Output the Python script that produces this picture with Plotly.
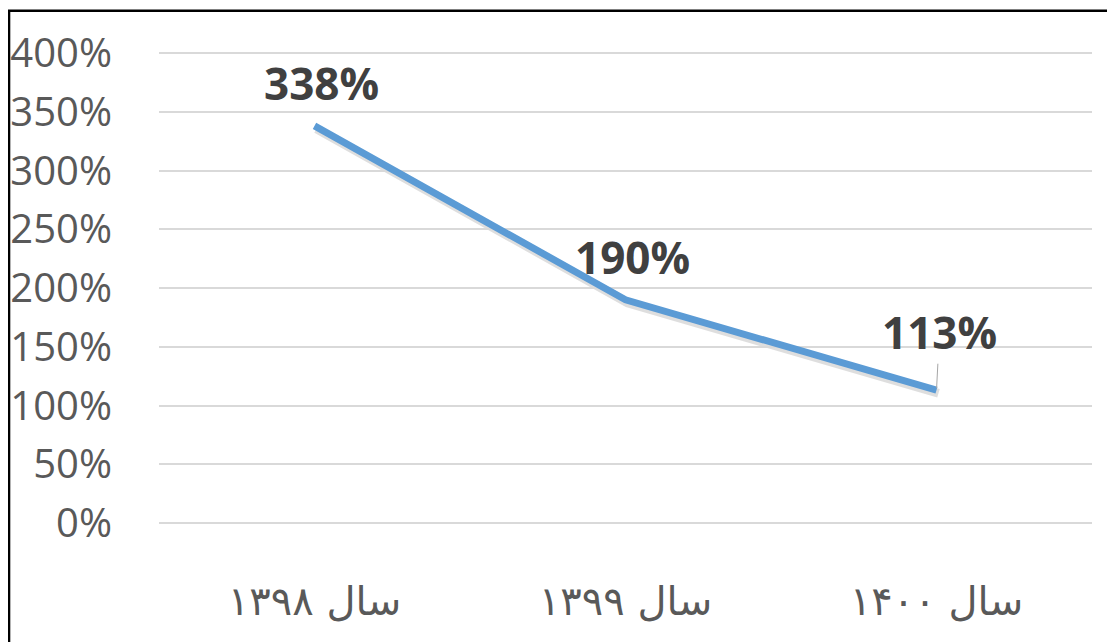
import plotly.graph_objects as go

categories = ["سال ۱۳۹۸", "سال ۱۳۹۹", "سال ۱۴۰۰"]
values = [3.38, 1.90, 1.13]
labels = ["338%", "190%", "113%"]
y_ticks = [0, 0.5, 1, 1.5, 2, 2.5, 3, 3.5, 4]
y_tick_text = ["0%", "50%", "100%", "150%", "200%", "250%", "300%", "350%", "400%"]

OFF = 8  # page body margin in the browser
W, H = 1115 - OFF, 642 - OFF
L, R, T, B = 159 - OFF, 23, 53 - OFF, 119
PAD = 6
ml, mr, mt, mb = L - PAD, R - PAD, T - PAD, B - PAD
aw, ah = W - ml - mr, H - mt - mb

Y_LO, Y_HI = -0.012, 4.012
PXU = (H - B - T) / 4.0  # pixels per unit of the value axis
T2 = T - (Y_HI - 4) * PXU
B2 = B - (0 - Y_LO) * PXU


def xd(px0, px1):
    return [(px0 - ml) / aw, (px1 - ml) / aw]


def yd(py_bottom, py_top):
    return [(H - mb - py_bottom) / ah, (H - mb - py_top) / ah]


fig = go.Figure()

# soft shadow on an offset, invisible copy of the axes (drawn first, underneath)
fig.add_trace(go.Scatter(
    x=categories, y=values, mode="lines", xaxis="x", yaxis="y",
    line=dict(color="rgba(0,0,0,0.13)", width=9), hoverinfo="skip", showlegend=False))
# main line on the visible axes
fig.add_trace(go.Scatter(
    x=categories, y=values, mode="lines", xaxis="x2", yaxis="y2",
    line=dict(color="#5B9BD5", width=7), showlegend=False))

lab_font = dict(family="Open Sans", size=44, color="#404040")
for i, (c, v, t) in enumerate(zip(categories, values, labels)):
    if i == 2:
        fig.add_annotation(x=c, y=v, xref="x2", yref="y2", text="<b>%s</b>" % t,
                           showarrow=True, arrowhead=0, arrowwidth=1,
                           arrowcolor="#A6A6A6", ax=3, ay=-58, standoff=2,
                           font=lab_font)
    else:
        fig.add_annotation(x=c, y=v, xref="x2", yref="y2", text="<b>%s</b>" % t,
                           showarrow=False, xshift=7, yshift=43, font=lab_font)

fig.update_layout(
    width=W, height=H,
    margin=dict(l=ml, r=mr, t=mt, b=mb, autoexpand=False),
    paper_bgcolor="white", plot_bgcolor="rgba(0,0,0,0)",
    showlegend=False,
    xaxis=dict(type="category", range=[-0.5, 2.5], domain=xd(L + 2, W - R + 2),
               anchor="y", visible=False, showgrid=False, automargin=False),
    yaxis=dict(range=[Y_LO, Y_HI], domain=yd(H - B2 + 3, T2 + 3), anchor="x",
               visible=False, showgrid=False, automargin=False),
    xaxis2=dict(type="category", range=[-0.5, 2.5], showgrid=False, showline=False,
                zeroline=False, ticks="", ticklabelstandoff=50, automargin=False,
                tickfont=dict(family="DejaVu Sans", size=40, color="#595959"),
                domain=xd(L, W - R), anchor="y2"),
    yaxis2=dict(range=[Y_LO, Y_HI], tickvals=y_ticks, ticktext=y_tick_text,
                showgrid=True, gridcolor="#D9D9D9", gridwidth=1.5, automargin=False,
                zeroline=False, showline=False, ticks="", ticklabelstandoff=46,
                tickfont=dict(family="Open Sans", size=40, color="#595959"),
                domain=yd(H - B2, T2), anchor="x2"),
)

# outer border (top and left visible; right and bottom lie outside the picture)
bx0 = (1 - ml) / aw
by1 = (H - mb - 2.7) / ah
fig.add_shape(type="rect", xref="paper", yref="paper",
              x0=bx0, x1=1.5, y0=-1.0, y1=by1,
              line=dict(color="black", width=2.6), layer="above")

fig.write_html("out.html")
